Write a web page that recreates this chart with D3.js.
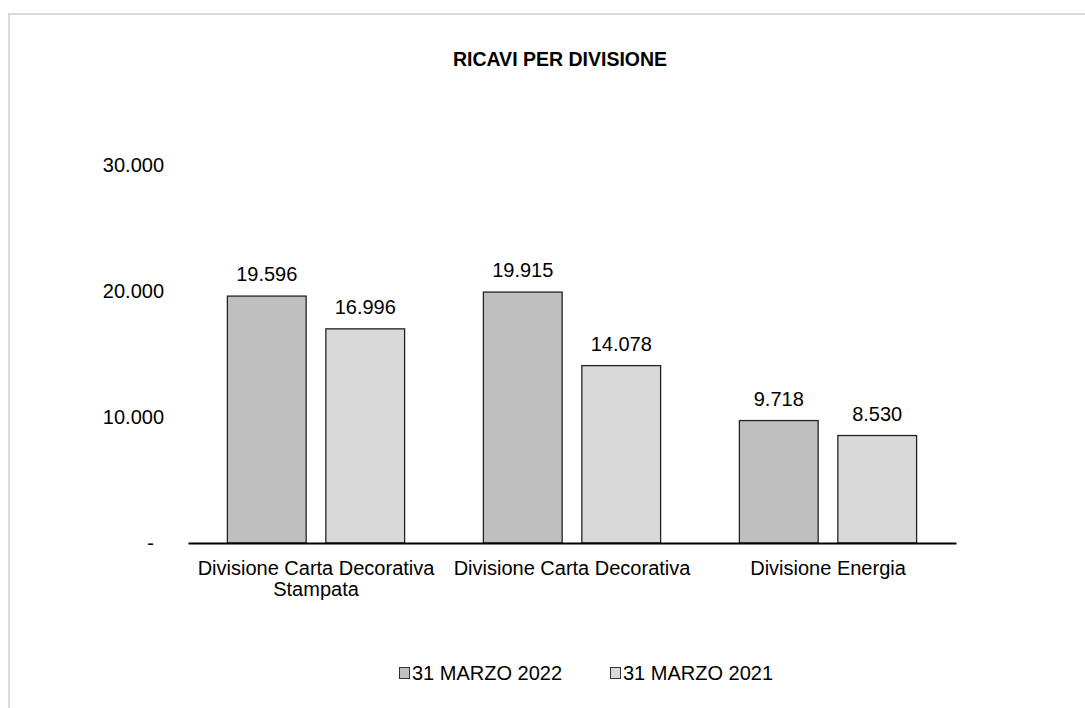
<!DOCTYPE html>
<html>
<head>
<meta charset="utf-8">
<script src="https://cdn.jsdelivr.net/npm/d3@7"></script>
<style>
  body { margin: 0; background: #fff; }
  text { font-family: "Liberation Sans", Arial, sans-serif; fill: #000; }
</style>
</head>
<body>
<svg id="chart"></svg>
<script>
const categories = [
  ['Divisione Carta Decorativa', 'Stampata'],
  ['Divisione Carta Decorativa'],
  ['Divisione Energia']
]
const seriesNames = ['31 MARZO 2022', '31 MARZO 2021']
const values2022 = [19596, 19915, 9718]
const values2021 = [16996, 14078, 8530]
const yTicks = [0, 10000, 20000, 30000]

const width = 1085
const height = 708
const margin = { top: 165, right: 129, bottom: 165, left: 188 }
const colors = ['#bfbfbf', '#d9d9d9']
const fontSize = 20
const fmt = v => (v === 0 ? '-' : d3.format(',')(v).replace(/,/g, '.'))

const svg = d3
  .select('#chart')
  .attr('width', width)
  .attr('height', height)

// outer frame (only top and left edges fall inside the picture)
svg
  .append('rect')
  .attr('x', 9)
  .attr('y', 14)
  .attr('width', width + 20)
  .attr('height', height + 20)
  .attr('fill', 'none')
  .attr('stroke', '#d9d9d9')
  .attr('stroke-width', 2)

svg
  .append('text')
  .attr('x', 560)
  .attr('y', 66)
  .attr('text-anchor', 'middle')
  .attr('font-size', 19.5)
  .attr('font-weight', 'bold')
  .text('RICAVI PER DIVISIONE')

const x0 = d3
  .scaleBand()
  .domain(d3.range(categories.length))
  .range([margin.left, width - margin.right])
  .paddingInner(0)
  .paddingOuter(0)

const x1 = d3
  .scaleBand()
  .domain(d3.range(seriesNames.length))
  .range([0, x0.bandwidth()])
  .paddingInner(0.2)
  .paddingOuter(0.4)

const y = d3
  .scaleLinear()
  .domain([0, 30000])
  .range([height - margin.bottom, margin.top])

const data = categories.map((c, i) => ({
  i,
  vals: [values2022[i], values2021[i]]
}))

// y axis labels only (no line, no ticks)
const yAxis = g =>
  g
    .attr('transform', `translate(${margin.left - 24},0)`)
    .call(
      d3
        .axisLeft(y)
        .tickValues(yTicks)
        .tickFormat(fmt)
        .tickSize(0)
        .tickPadding(0)
    )
    .call(g => g.select('.domain').remove())
    .call(g =>
      g
        .selectAll('.tick text')
        .attr('font-size', fontSize)
        .attr('font-family', '"Liberation Sans", Arial, sans-serif')
        .attr('fill', '#000')
        .attr('dx', d => (d === 0 ? -10 : 0))
    )

svg.append('g').call(yAxis)

const groups = svg
  .append('g')
  .selectAll('g')
  .data(data)
  .join('g')
  .attr('transform', d => `translate(${x0(d.i)},0)`)

groups
  .selectAll('rect')
  .data(d => d.vals)
  .join('rect')
  .attr('x', (d, j) => x1(j))
  .attr('y', d => y(d))
  .attr('width', x1.bandwidth())
  .attr('height', d => y(0) - y(d))
  .attr('fill', (d, j) => colors[j])
  .attr('stroke', '#222')
  .attr('stroke-width', 1.3)

groups
  .selectAll('text.val')
  .data(d => d.vals)
  .join('text')
  .attr('class', 'val')
  .attr('x', (d, j) => x1(j) + x1.bandwidth() / 2)
  .attr('y', d => y(d) - 15)
  .attr('text-anchor', 'middle')
  .attr('font-size', fontSize)
  .text(fmt)

// x axis baseline
const xAxis = g =>
  g
    .attr('transform', `translate(0,${y(0)})`)
    .call(d3.axisBottom(x0).tickSize(0).tickFormat(''))
    .call(g =>
      g.select('.domain').attr('stroke', '#000').attr('stroke-width', 2)
    )

svg.append('g').call(xAxis)

const catLabels = svg
  .append('g')
  .selectAll('text')
  .data(categories)
  .join('text')
  .attr('text-anchor', 'middle')
  .attr('font-size', fontSize)
  .attr('transform', (d, i) => `translate(${x0(i) + x0.bandwidth() / 2},${y(0) + 32})`)

catLabels
  .selectAll('tspan')
  .data(d => d)
  .join('tspan')
  .attr('x', 0)
  .attr('dy', (d, k) => (k === 0 ? 0 : 21))
  .text(d => d)

// legend
const legend = svg
  .append('g')
  .selectAll('g')
  .data(seriesNames)
  .join('g')
  .attr('transform', (d, j) => `translate(${399 + j * 211},680)`)

legend
  .append('rect')
  .attr('x', 0.5)
  .attr('y', -12.5)
  .attr('width', 10)
  .attr('height', 11)
  .attr('fill', (d, j) => colors[j])
  .attr('stroke', '#333')
  .attr('stroke-width', 1)

legend
  .append('text')
  .attr('x', 13)
  .attr('y', 0)
  .attr('font-size', fontSize)
  .text(d => d)
</script>
</body>
</html>
